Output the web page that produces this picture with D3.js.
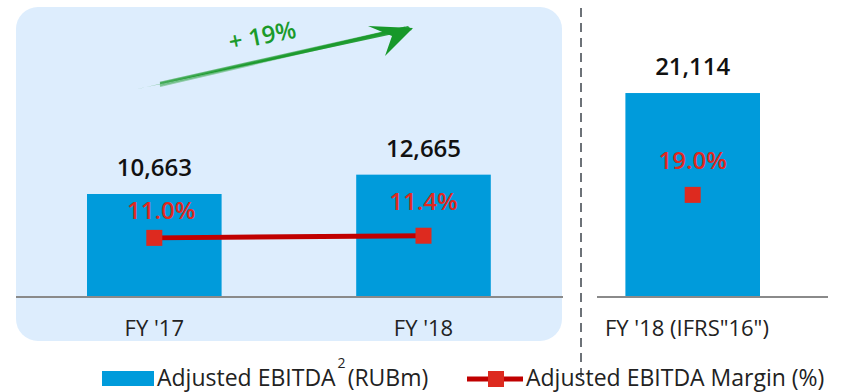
<!doctype html>
<html lang="en">
<head>
<meta charset="utf-8">
<title>Adjusted EBITDA</title>
<style type="text/css">
  body { margin: 0; background-color: white; font-family: "Open Sans", Lato, sans-serif; }
  svg { display: block; }
  .baseline { stroke: #8a8a8a; stroke-width: 2px; }
  .divider { stroke: #6d7278; stroke-width: 2px; stroke-dasharray: 9 6; }
  .value { font-size: 24px; font-weight: 600; fill: #111; }
  .pct { font-size: 24px; font-weight: 600; fill: #e0291f; }
  .cat { font-size: 22px; fill: #222; }
  .legend { font-size: 23px; fill: #222; }
  path.margin { fill: none; stroke: #c00000; stroke-width: 5px; }
</style>
</head>
<body>
<script src="https://cdnjs.cloudflare.com/ajax/libs/d3/7.8.5/d3.min.js"></script>
<script type="text/javascript">
  // data
  var categories = ["FY '17", "FY '18", "FY '18 (IFRS\"16\")"];
  var ebitda = [10663, 12665, 21114];
  var margin = [11.0, 11.4, 19.0];
  var valueLabels = ["10,663", "12,665", "21,114"];
  var pctLabels = ["11.0%", "11.4%", "19.0%"];
  var growthLabel = "+ 19%";

  var fullwidth = 846, fullheight = 392;
  var base = 297;

  var svg = d3.select("body").append("svg")
    .attr("width", fullwidth)
    .attr("height", fullheight);

  var x = d3.scaleBand()
    .domain(categories)
    .range([87, 760])
    .paddingInner(0.5)
    .paddingOuter(0);
  var y = d3.scaleLinear().domain([0, 25000]).range([base, 55.5]);
  var ym = d3.scaleLinear().domain([0, 20]).range([base, 189.5]);

  var data = categories.map(function(c, i) {
    return { cat: c, value: ebitda[i], margin: margin[i], vl: valueLabels[i], pl: pctLabels[i] };
  });
  function cx(d) { return x(d.cat) + x.bandwidth() / 2; }

  // highlight panel behind the first two years
  svg.append("rect")
    .attr("x", 16).attr("y", 7)
    .attr("width", 546).attr("height", 334)
    .attr("rx", 22).attr("ry", 22)
    .attr("fill", "#ddedfd");

  // dashed divider
  svg.append("line").attr("class", "divider")
    .attr("x1", 581).attr("x2", 581)
    .attr("y1", 8).attr("y2", 382);

  // bars
  svg.selectAll("rect.bar")
    .data(data)
    .enter()
    .append("rect")
    .attr("class", "bar")
    .attr("x", function(d) { return x(d.cat); })
    .attr("width", x.bandwidth())
    .attr("y", function(d) { return y(d.value); })
    .attr("height", function(d) { return base - y(d.value); })
    .attr("fill", "#009bdb");

  // baselines
  svg.append("line").attr("class", "baseline")
    .attr("x1", 16).attr("x2", 563).attr("y1", base).attr("y2", base);
  svg.append("line").attr("class", "baseline")
    .attr("x1", 597).attr("x2", 828).attr("y1", base).attr("y2", base);

  // margin line (IFRS 16 point stands alone)
  var line = d3.line()
    .x(cx)
    .y(function(d) { return ym(d.margin); });
  svg.append("path")
    .datum(data.slice(0, 2))
    .attr("class", "margin")
    .attr("d", line);

  svg.selectAll("rect.marker")
    .data(data)
    .enter()
    .append("rect")
    .attr("class", "marker")
    .attr("x", function(d) { return cx(d) - 8; })
    .attr("y", function(d) { return ym(d.margin) - 8; })
    .attr("width", 16).attr("height", 16)
    .attr("fill", "#dd2a1f");

  // value labels
  svg.selectAll("text.value")
    .data(data)
    .enter()
    .append("text")
    .attr("class", "value")
    .attr("text-anchor", "middle")
    .attr("x", cx)
    .attr("y", function(d) { return y(d.value) - 18; })
    .text(function(d) { return d.vl; });

  // margin labels: above the marker, but kept inside the bar
  svg.selectAll("text.pct")
    .data(data)
    .enter()
    .append("text")
    .attr("class", "pct")
    .attr("text-anchor", "middle")
    .attr("x", function(d, i) { return cx(d) + (i == 0 ? 7 : 0); })
    .attr("y", function(d) { return Math.max(ym(d.margin) - 26, y(d.value) + 25); })
    .text(function(d) { return d.pl; });

  // category labels
  svg.selectAll("text.cat")
    .data(data)
    .enter()
    .append("text")
    .attr("class", "cat")
    .attr("text-anchor", function(d, i) { return i == 2 ? "start" : "middle"; })
    .attr("x", function(d, i) { return i == 2 ? 605 : cx(d); })
    .attr("y", 336)
    .text(function(d) { return d.cat; });

  // green growth arrow (hand drawn look)
  var g = svg.append("g");
  g.append("path")
    .attr("d", "M138,89 L408,26 L412,30 L142,88 Z")
    .attr("fill", "#17982a").attr("opacity", 0.9);
  [[-1.5, 0.6], [1, 0.5], [2.2, 0.4], [-0.5, 0.7]].forEach(function(o) {
    g.append("line")
      .attr("x1", 160).attr("y1", 84 + o[0])
      .attr("x2", 405).attr("y2", 28 + o[0] * 0.5)
      .attr("stroke", "#1a9a2a").attr("stroke-width", 1.6)
      .attr("opacity", o[1]);
  });
  g.append("path")
    .attr("d", "M368,26 L413,28 L385,56 L392,36 Z")
    .attr("fill", "#17982a");
  g.append("text")
    .attr("transform", "translate(264,44) rotate(-11)")
    .attr("text-anchor", "middle")
    .attr("font-size", 24)
    .attr("font-weight", 600)
    .attr("fill", "#1a9a2a")
    .text(growthLabel);

  // legend
  var leg = svg.append("g");
  leg.append("rect")
    .attr("x", 102).attr("y", 371).attr("width", 52).attr("height", 15)
    .attr("fill", "#009bdb");
  var t1 = leg.append("text").attr("class", "legend").attr("x", 157).attr("y", 386);
  t1.append("tspan").text("Adjusted EBITDA");
  t1.append("tspan").attr("font-size", 14).attr("dy", -18).attr("dx", 2).text("2");
  t1.append("tspan").attr("dy", 18).attr("dx", 2).text("(RUBm)");

  leg.append("line")
    .attr("x1", 467).attr("x2", 523).attr("y1", 379).attr("y2", 379)
    .attr("stroke", "#c00000").attr("stroke-width", 5);
  leg.append("rect")
    .attr("x", 488).attr("y", 371).attr("width", 16).attr("height", 16)
    .attr("fill", "#dd2a1f");
  leg.append("text").attr("class", "legend")
    .attr("x", 526).attr("y", 386)
    .text("Adjusted EBITDA Margin (%)");
</script>
</body>
</html>
